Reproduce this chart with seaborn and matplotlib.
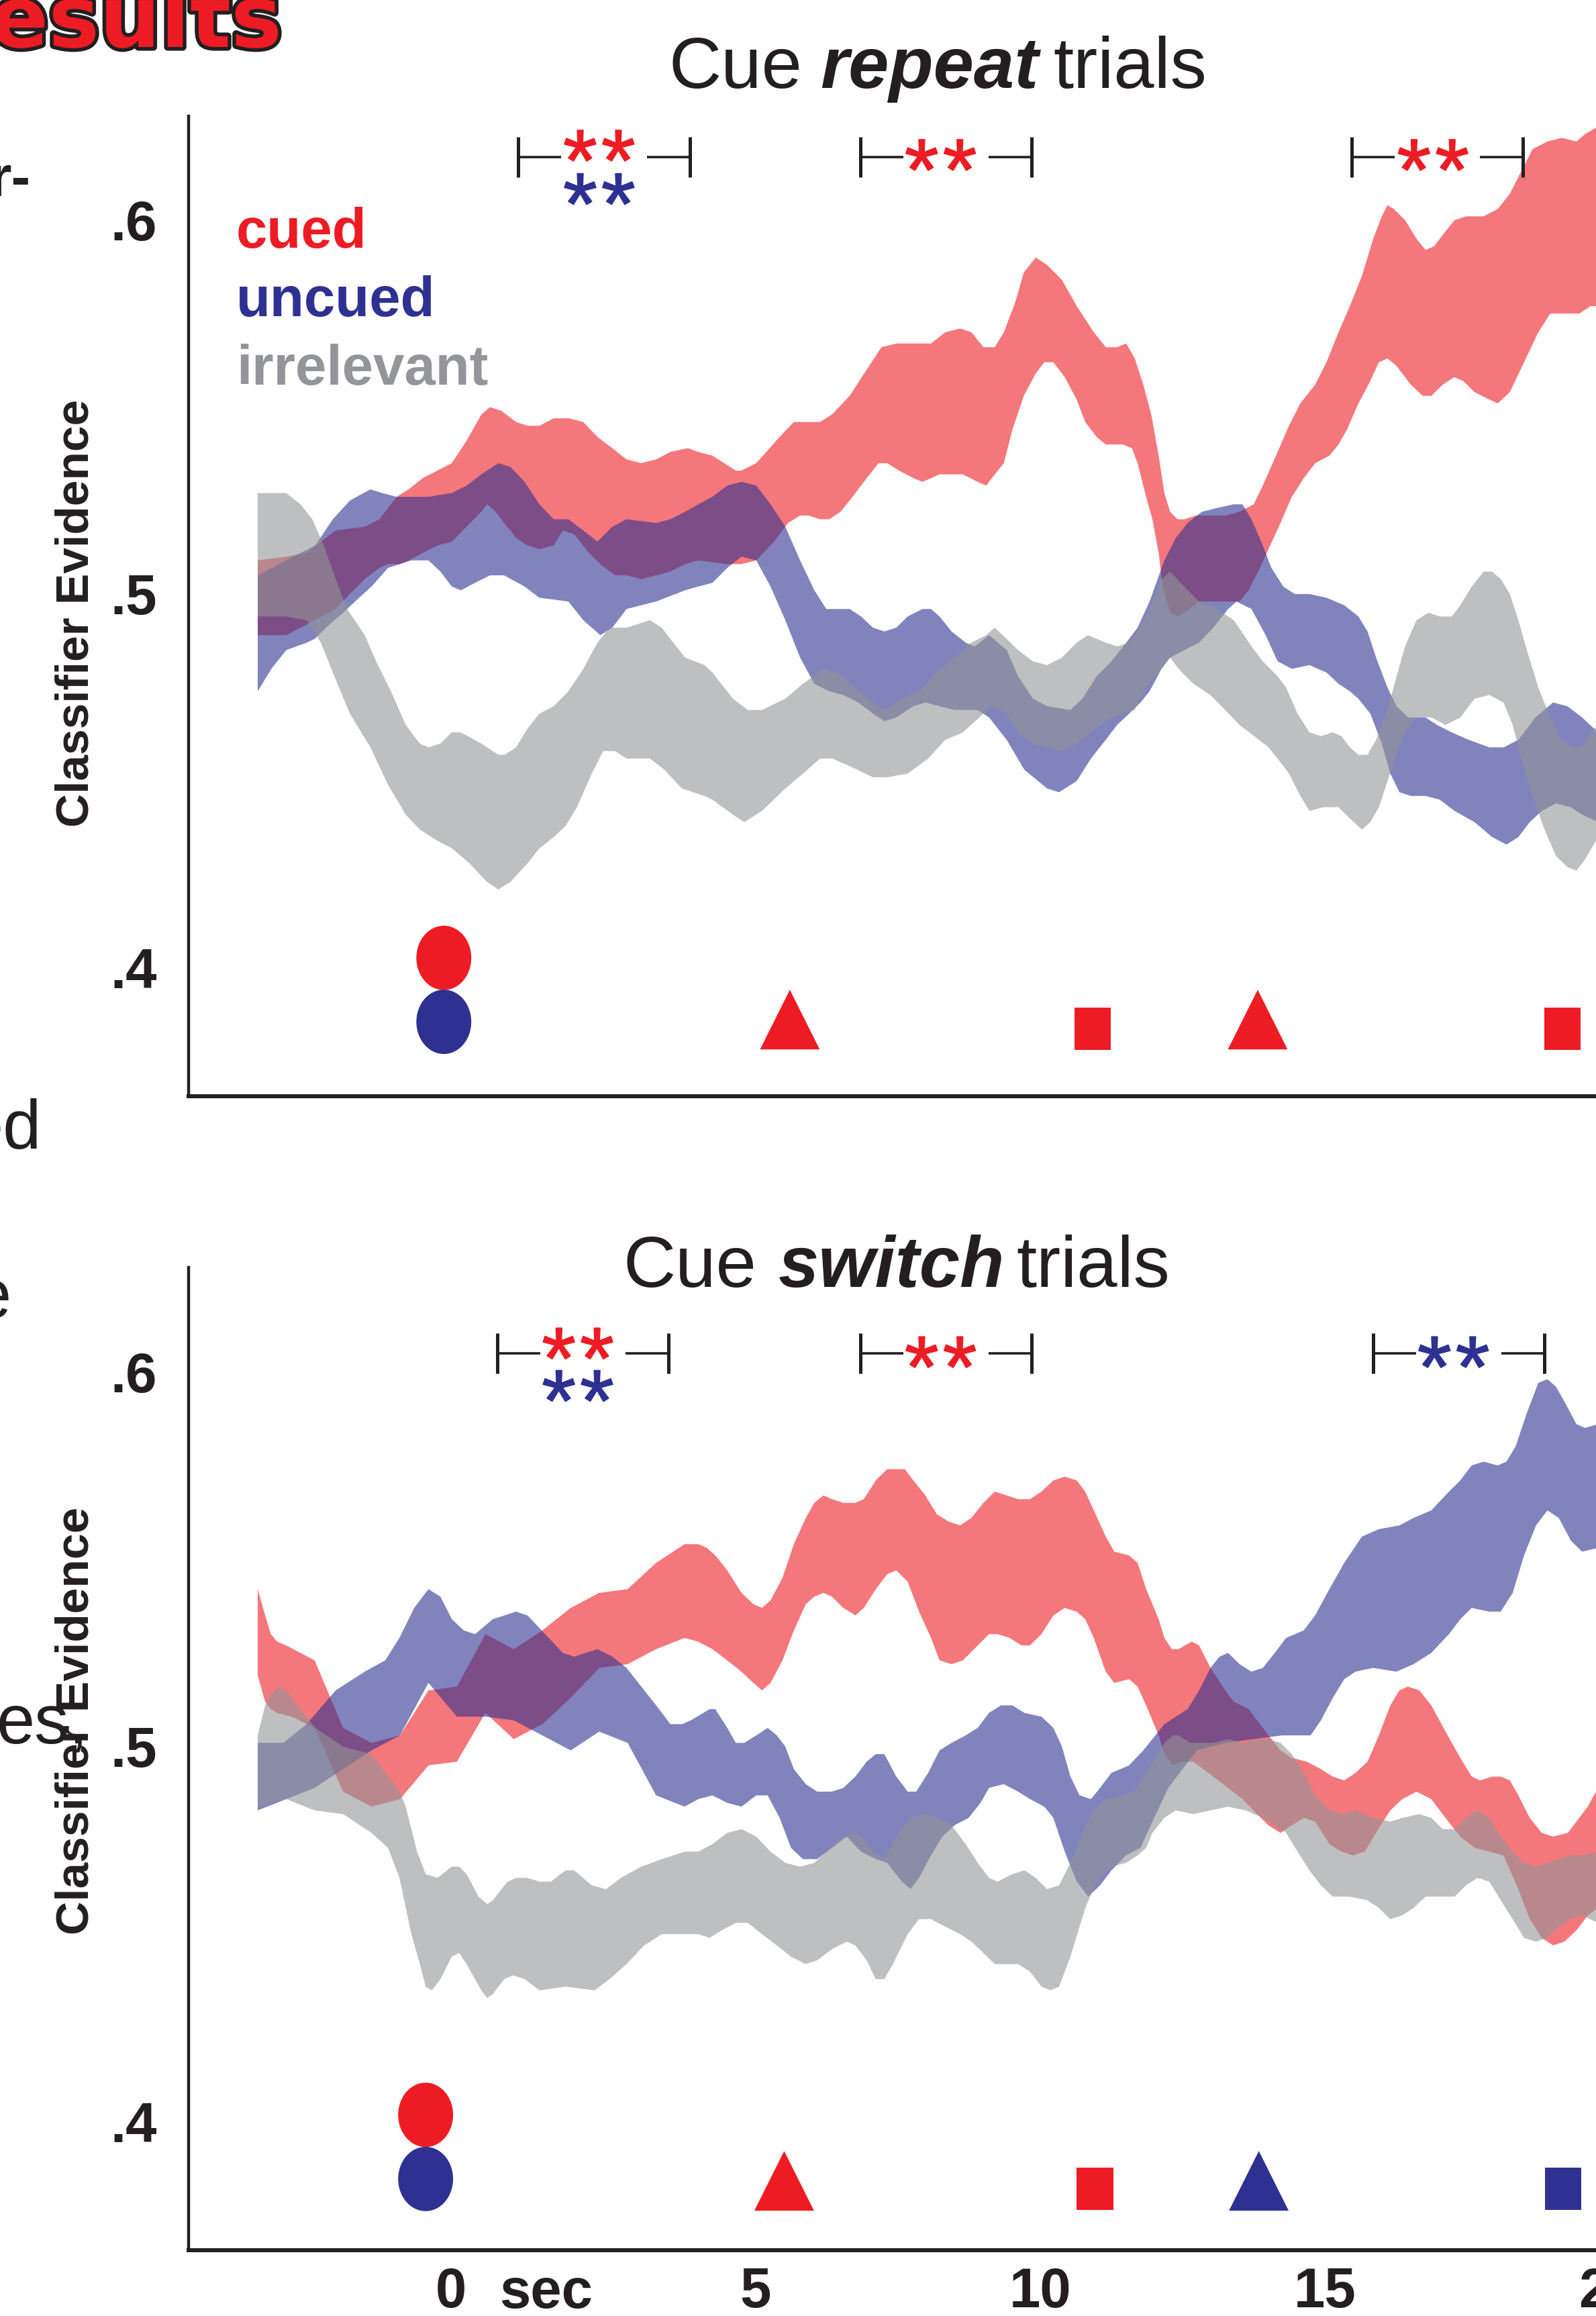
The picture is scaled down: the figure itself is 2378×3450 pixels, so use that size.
import numpy as np
import pandas as pd
import matplotlib
matplotlib.use("Agg")
import matplotlib.pyplot as plt
import seaborn as sns
from matplotlib import font_manager
from matplotlib.font_manager import FontProperties
from matplotlib.path import Path
from matplotlib.textpath import TextPath
from matplotlib.transforms import ScaledTranslation
import matplotlib.patheffects as pe

# ---------------------------------------------------------------- data
# Each band edge is a list of (time [s], classifier evidence) points.
# ---- Cue repeat trials
rep_cued_hi = [(-3.75, .509), (-3.25, .510), (-2.89, .511), (-2.64, .514), (-2.38, .517), (-1.87, .518),
               (-1.61, .520), (-1.31, .526), (-1.10, .528), (-0.85, .531), (-0.34, .535), (-0.08, .541),
               (0.18, .548), (0.33, .550), (0.53, .549), (0.79, .546), (0.99, .545), (1.20, .545),
               (1.45, .547), (1.71, .547), (1.97, .546), (2.22, .542), (2.48, .539), (2.73, .536),
               (2.99, .535), (3.25, .536), (3.50, .538), (3.81, .539), (3.99, .538), (4.24, .537),
               (4.65, .533), (4.75, .533), (5.01, .535), (5.42, .542), (5.67, .546), (5.83, .546),
               (6.13, .546), (6.34, .548), (6.65, .553), (6.95, .560), (7.21, .566), (7.47, .567),
               (7.82, .567), (8.08, .567), (8.33, .570), (8.59, .571), (8.79, .570), (9.00, .566),
               (9.20, .566), (9.36, .570), (9.56, .578), (9.71, .586), (9.92, .590), (10.12, .588),
               (10.38, .584), (10.64, .577), (10.94, .570), (11.15, .566), (11.35, .566), (11.51, .567),
               (11.66, .563), (11.81, .556), (11.95, .548), (12.08, .537), (12.18, .527), (12.28, .522),
               (12.41, .520), (12.53, .520), (12.74, .521), (12.99, .521), (13.25, .521), (13.50, .522),
               (13.75, .524), (13.91, .529), (14.17, .538), (14.37, .545), (14.57, .551), (14.83, .556),
               (15.03, .562), (15.24, .570), (15.44, .577), (15.65, .585), (15.85, .595), (16.00, .601),
               (16.10, .604), (16.21, .603), (16.41, .600), (16.61, .595), (16.77, .592), (16.92, .593),
               (17.12, .597), (17.28, .600), (17.48, .601), (17.79, .601), (18.04, .603), (18.25, .607),
               (18.45, .613), (18.65, .619), (18.91, .621), (19.16, .622), (19.42, .621), (19.57, .623),
               (19.80, .625)]
rep_cued_lo = [(-3.75, .489), (-3.25, .489), (-2.75, .493), (-2.38, .496), (-2.13, .500), (-1.87, .504),
               (-1.61, .507), (-1.46, .508), (-1.26, .508), (-1.10, .509), (-0.85, .511), (-0.59, .513),
               (-0.34, .514), (-0.08, .518), (0.18, .522), (0.28, .524), (0.43, .522), (0.58, .519),
               (0.79, .515), (0.99, .513), (1.20, .512), (1.45, .513), (1.61, .517), (1.81, .516),
               (2.07, .511), (2.27, .508), (2.53, .505), (2.73, .505), (2.99, .504), (3.25, .505),
               (3.50, .506), (3.76, .508), (3.99, .509), (4.50, .508), (4.75, .508), (5.01, .509),
               (5.32, .514), (5.57, .519), (5.78, .521), (5.93, .521), (6.13, .520), (6.29, .520),
               (6.49, .522), (6.70, .526), (6.95, .531), (7.16, .535), (7.31, .535), (7.52, .533),
               (7.77, .531), (7.93, .530), (8.23, .532), (8.44, .532), (8.64, .532), (8.90, .530),
               (9.05, .529), (9.20, .532), (9.36, .535), (9.51, .544), (9.71, .553), (9.92, .559),
               (10.07, .562), (10.23, .562), (10.43, .558), (10.64, .552), (10.79, .546), (10.99, .542),
               (11.15, .540), (11.45, .540), (11.61, .539), (11.71, .535), (11.86, .526), (11.97, .520),
               (12.08, .511), (12.15, .502), (12.28, .495), (12.41, .494), (12.53, .495), (12.79, .498),
               (13.04, .498), (13.30, .498), (13.50, .498), (13.66, .501), (13.86, .507), (14.01, .512),
               (14.22, .519), (14.42, .526), (14.63, .531), (14.83, .535), (15.08, .537), (15.24, .540),
               (15.39, .544), (15.59, .551), (15.80, .557), (15.95, .562), (16.10, .563), (16.26, .561),
               (16.51, .556), (16.72, .553), (16.87, .553), (17.07, .556), (17.27, .558), (17.43, .557),
               (17.63, .554), (17.89, .552), (18.04, .551), (18.25, .554), (18.50, .562), (18.75, .570),
               (18.96, .575), (19.21, .575), (19.47, .575), (19.67, .577), (19.80, .577)]
rep_uncued_hi = [(-3.75, .505), (-3.25, .509), (-2.74, .513), (-2.43, .520), (-2.13, .525), (-1.77, .528),
                 (-1.56, .527), (-1.31, .526), (-1.10, .526), (-0.75, .526), (-0.34, .527), (-0.08, .529),
                 (0.18, .532), (0.48, .535), (0.69, .534), (0.94, .530), (1.20, .524), (1.45, .520),
                 (1.71, .520), (1.97, .517), (2.22, .514), (2.48, .518), (2.73, .520), (3.25, .519),
                 (3.50, .520), (3.76, .522), (3.99, .524), (4.24, .526), (4.50, .529), (4.75, .530),
                 (5.01, .529), (5.26, .524), (5.52, .518), (5.78, .509), (6.03, .501), (6.24, .496),
                 (6.44, .496), (6.65, .496), (6.85, .494), (7.06, .491), (7.26, .490), (7.47, .491),
                 (7.67, .494), (7.93, .496), (8.08, .496), (8.23, .494), (8.44, .490), (8.69, .487),
                 (8.85, .486), (9.10, .489), (9.41, .485), (9.61, .478), (9.87, .472), (10.12, .470),
                 (10.53, .469), (10.74, .472), (10.99, .478), (11.25, .482), (11.51, .487), (11.71, .491),
                 (11.92, .498), (12.18, .509), (12.38, .515), (12.59, .519), (12.84, .522), (13.10, .523),
                 (13.40, .524), (13.55, .524), (13.71, .520), (13.91, .513), (14.06, .507), (14.27, .502),
                 (14.47, .500), (14.73, .500), (15.03, .499), (15.34, .497), (15.59, .494), (15.75, .490),
                 (15.90, .483), (16.10, .475), (16.26, .470), (16.46, .467), (16.77, .467), (16.97, .465),
                 (17.23, .463), (17.53, .461), (17.89, .459), (18.14, .459), (18.40, .461), (18.70, .467),
                 (19.01, .471), (19.26, .470), (19.52, .467), (19.80, .463)]
rep_uncued_lo = [(-3.75, .474), (-3.51, .480), (-3.25, .485), (-2.89, .487), (-2.75, .488), (-2.48, .492),
                 (-2.25, .495), (-1.97, .499), (-1.75, .502), (-1.46, .507), (-1.25, .508), (-1.05, .509),
                 (-0.75, .509), (-0.54, .506), (-0.34, .502), (-0.18, .501), (0.07, .503), (0.33, .505),
                 (0.58, .505), (0.94, .502), (1.20, .499), (1.71, .498), (1.97, .493), (2.27, .489),
                 (2.48, .491), (2.73, .496), (3.25, .498), (3.76, .501), (3.99, .502), (4.24, .503),
                 (4.50, .507), (4.75, .510), (5.01, .509), (5.26, .502), (5.52, .493), (5.78, .483),
                 (6.03, .476), (6.29, .474), (6.54, .473), (6.80, .471), (7.06, .468), (7.26, .466),
                 (7.47, .467), (7.77, .470), (7.98, .471), (8.23, .470), (8.49, .469), (8.90, .469),
                 (9.10, .467), (9.41, .461), (9.72, .453), (10.12, .448), (10.33, .447), (10.64, .450),
                 (10.89, .456), (11.15, .461), (11.35, .465), (11.56, .468), (11.76, .471), (11.92, .474),
                 (12.13, .480), (12.28, .483), (12.53, .485), (12.79, .487), (13.04, .491), (13.30, .496),
                 (13.45, .498), (13.71, .496), (13.96, .489), (14.17, .482), (14.42, .480), (14.73, .481),
                 (15.03, .479), (15.24, .476), (15.44, .474), (15.59, .472), (15.80, .468), (16.00, .460),
                 (16.15, .452), (16.31, .447), (16.51, .446), (16.77, .446), (17.02, .445), (17.28, .442),
                 (17.63, .439), (17.94, .435), (18.19, .433), (18.40, .435), (18.60, .439), (18.81, .442),
                 (19.06, .444), (19.32, .443), (19.52, .441), (19.80, .439)]
rep_irrel_hi = [(-3.75, .527), (-3.25, .527), (-3.00, .524), (-2.79, .520), (-2.59, .513), (-2.38, .504),
                (-2.18, .496), (-1.87, .489), (-1.67, .482), (-1.41, .474), (-1.15, .465), (-0.90, .460),
                (-0.75, .459), (-0.54, .460), (-0.34, .463), (-0.18, .463), (0.18, .460), (0.48, .457),
                (0.59, .457), (0.79, .459), (0.99, .464), (1.20, .468), (1.45, .470), (1.71, .474),
                (1.97, .480), (2.22, .487), (2.43, .491), (2.73, .491), (3.14, .493), (3.35, .491),
                (3.55, .487), (3.76, .483), (4.10, .481), (4.24, .479), (4.60, .472), (4.86, .469),
                (5.11, .469), (5.52, .472), (5.83, .476), (6.19, .480), (6.44, .479), (6.75, .475),
                (7.06, .471), (7.26, .469), (7.57, .472), (7.88, .474), (8.18, .479), (8.49, .483),
                (8.79, .487), (9.05, .489), (9.20, .491), (9.41, .488), (9.61, .485), (9.87, .482),
                (10.12, .481), (10.38, .483), (10.64, .487), (10.84, .489), (11.15, .487), (11.35, .486),
                (11.56, .487), (11.76, .491), (11.97, .498), (12.13, .504), (12.28, .506), (12.53, .502),
                (12.79, .498), (13.10, .496), (13.40, .493), (13.71, .486), (13.91, .482), (14.17, .478),
                (14.32, .475), (14.52, .468), (14.73, .463), (14.93, .462), (15.14, .463), (15.29, .462),
                (15.44, .459), (15.59, .457), (15.75, .457), (15.90, .461), (16.10, .469), (16.26, .478),
                (16.41, .486), (16.61, .493), (16.82, .495), (17.02, .494), (17.23, .494), (17.38, .497),
                (17.58, .502), (17.79, .506), (17.94, .506), (18.09, .504), (18.25, .500), (18.40, .493),
                (18.55, .485), (18.75, .475), (18.96, .467), (19.16, .461), (19.37, .459), (19.52, .459),
                (19.67, .463), (19.80, .465)]
rep_irrel_lo = [(-3.75, .494), (-3.25, .494), (-2.89, .493), (-2.64, .487), (-2.43, .479), (-2.13, .468),
                (-1.77, .459), (-1.46, .449), (-1.15, .441), (-0.90, .437), (-0.59, .434), (-0.34, .432),
                (-0.03, .428), (0.28, .423), (0.48, .421), (0.69, .423), (0.99, .428), (1.20, .432),
                (1.45, .435), (1.66, .438), (1.86, .443), (2.12, .452), (2.32, .458), (2.53, .458),
                (2.73, .456), (3.14, .456), (3.40, .453), (3.70, .448), (4.10, .446), (4.24, .445),
                (4.60, .441), (4.80, .439), (5.11, .442), (5.52, .448), (5.83, .452), (6.13, .456),
                (6.34, .456), (6.65, .454), (7.06, .451), (7.31, .451), (7.67, .452), (8.03, .456),
                (8.33, .461), (8.64, .463), (9.00, .468), (9.15, .470), (9.41, .468), (9.61, .463),
                (9.87, .460), (10.12, .459), (10.38, .458), (10.64, .460), (10.89, .463), (11.25, .467),
                (11.45, .468), (11.66, .469), (11.86, .475), (12.18, .481), (12.28, .483), (12.43, .480),
                (12.69, .476), (12.99, .473), (13.25, .469), (13.50, .465), (13.76, .462), (14.01, .459),
                (14.17, .456), (14.37, .452), (14.57, .446), (14.73, .442), (14.98, .443), (15.24, .443),
                (15.44, .440), (15.65, .437), (15.80, .439), (15.95, .443), (16.10, .450), (16.26, .457),
                (16.41, .463), (16.61, .467), (16.87, .467), (17.12, .465), (17.38, .467), (17.63, .472),
                (17.89, .473), (18.14, .471), (18.30, .465), (18.45, .456), (18.65, .446), (18.86, .437),
                (19.06, .430), (19.26, .427), (19.42, .426), (19.57, .429), (19.80, .435)]

# ---- Cue switch trials
sw_cued_hi = [(-3.75, .542), (-3.62, .535), (-3.52, .530), (-3.41, .528), (-3.25, .527), (-2.75, .523),
              (-2.25, .505), (-1.75, .501), (-1.25, .503), (-0.75, .515), (-0.25, .516), (0.25, .530),
              (0.75, .526), (1.25, .531), (1.75, .537), (2.25, .541), (2.75, .542), (3.25, .549),
              (3.75, .554), (3.99, .554), (4.14, .553), (4.29, .551), (4.50, .547), (4.75, .541),
              (4.96, .538), (5.11, .537), (5.26, .539), (5.47, .545), (5.67, .554), (5.88, .561),
              (6.03, .565), (6.19, .567), (6.34, .566), (6.54, .565), (6.75, .565), (6.90, .566),
              (7.11, .571), (7.31, .574), (7.47, .574), (7.62, .574), (7.77, .571), (7.98, .567),
              (8.18, .562), (8.39, .560), (8.59, .559), (8.79, .561), (9.00, .565), (9.20, .568),
              (9.41, .567), (9.61, .566), (9.82, .566), (10.02, .568), (10.23, .571), (10.43, .572),
              (10.64, .571), (10.79, .568), (10.94, .563), (11.15, .556), (11.30, .552), (11.56, .551),
              (11.71, .549), (11.86, .542), (12.08, .534), (12.18, .529), (12.31, .526), (12.43, .526),
              (12.66, .528), (12.79, .527), (12.99, .521), (13.25, .515), (13.40, .512), (13.66, .510),
              (13.81, .507), (14.01, .503), (14.22, .499), (14.42, .497), (14.68, .496), (14.93, .494),
              (15.14, .492), (15.34, .491), (15.54, .493), (15.75, .496), (15.95, .503), (16.15, .511),
              (16.31, .515), (16.46, .516), (16.66, .515), (16.87, .511), (17.12, .504), (17.38, .497),
              (17.58, .492), (17.73, .491), (17.94, .492), (18.09, .492), (18.25, .491), (18.40, .487),
              (18.60, .481), (18.81, .477), (19.01, .476), (19.27, .477), (19.47, .481), (19.62, .484),
              (19.80, .489)]
sw_cued_lo = [(-3.75, .519), (-3.62, .512), (-3.52, .510), (-3.41, .509), (-3.15, .508), (-2.75, .505),
              (-2.25, .488), (-1.75, .484), (-1.25, .486), (-0.75, .495), (-0.25, .496), (0.25, .509),
              (0.75, .502), (1.25, .506), (1.75, .513), (2.25, .521), (2.75, .522), (3.25, .526),
              (3.75, .529), (3.99, .528), (4.24, .526), (4.50, .523), (4.75, .520), (4.96, .517),
              (5.11, .515), (5.26, .517), (5.47, .523), (5.67, .531), (5.88, .538), (6.03, .540),
              (6.19, .541), (6.34, .540), (6.54, .537), (6.75, .535), (6.90, .537), (7.11, .542),
              (7.31, .546), (7.47, .547), (7.67, .544), (7.87, .536), (8.08, .529), (8.23, .523),
              (8.44, .522), (8.64, .523), (8.90, .527), (9.10, .530), (9.25, .530), (9.46, .529),
              (9.67, .527), (9.82, .527), (10.02, .530), (10.23, .535), (10.43, .537), (10.64, .536),
              (10.79, .534), (10.94, .529), (11.15, .520), (11.30, .517), (11.56, .518), (11.71, .516),
              (11.86, .511), (12.08, .503), (12.18, .498), (12.33, .495), (12.48, .496), (12.69, .496),
              (13.04, .492), (13.30, .489), (13.55, .486), (13.81, .482), (14.01, .479), (14.22, .477),
              (14.42, .479), (14.63, .481), (14.83, .480), (15.08, .474), (15.29, .472), (15.49, .471),
              (15.70, .472), (15.90, .477), (16.15, .483), (16.36, .486), (16.61, .488), (16.87, .486),
              (17.12, .481), (17.38, .476), (17.63, .473), (17.89, .472), (18.14, .471), (18.40, .462),
              (18.60, .454), (18.81, .449), (19.01, .447), (19.21, .448), (19.42, .451), (19.62, .455),
              (19.80, .457)]
sw_uncued_hi = [(-3.75, .501), (-3.30, .501), (-2.89, .506), (-2.38, .515), (-1.87, .520), (-1.51, .523),
                (-1.26, .529), (-1.00, .537), (-0.75, .542), (-0.54, .540), (-0.34, .534), (-0.13, .531),
                (0.07, .530), (0.38, .534), (0.79, .536), (0.99, .535), (1.30, .530), (1.61, .525),
                (1.81, .524), (2.22, .526), (2.48, .524), (2.73, .521), (2.99, .516), (3.25, .511),
                (3.50, .506), (3.71, .506), (3.86, .507), (4.19, .510), (4.29, .510), (4.50, .505),
                (4.65, .501), (4.80, .501), (5.01, .503), (5.21, .505), (5.37, .503), (5.52, .500),
                (5.67, .494), (5.88, .490), (6.08, .488), (6.34, .488), (6.54, .489), (6.75, .492),
                (6.95, .496), (7.11, .498), (7.26, .498), (7.47, .492), (7.67, .488), (7.82, .488),
                (8.03, .493), (8.23, .499), (8.44, .501), (8.69, .503), (8.90, .505), (9.10, .509),
                (9.31, .511), (9.51, .511), (9.72, .509), (10.02, .508), (10.23, .505), (10.38, .500),
                (10.53, .492), (10.69, .487), (10.89, .486), (11.05, .489), (11.25, .493), (11.56, .495),
                (11.81, .499), (11.97, .502), (12.18, .506), (12.38, .508), (12.59, .510), (12.79, .515),
                (12.99, .521), (13.15, .524), (13.30, .525), (13.50, .522), (13.71, .520), (13.91, .521),
                (14.12, .525), (14.32, .529), (14.63, .531), (14.83, .535), (15.08, .542), (15.34, .549),
                (15.65, .556), (15.95, .558), (16.31, .559), (16.56, .561), (16.87, .563), (17.18, .568),
                (17.38, .571), (17.58, .575), (17.79, .576), (18.04, .575), (18.19, .576), (18.35, .580),
                (18.55, .589), (18.75, .597), (18.91, .598), (19.06, .596), (19.21, .592), (19.42, .586),
                (19.57, .585), (19.80, .586)]
sw_uncued_lo = [(-3.75, .483), (-3.25, .486), (-2.75, .489), (-2.25, .494), (-1.75, .499), (-1.25, .503),
                (-0.75, .517), (-0.25, .508), (0.25, .508), (0.75, .507), (1.25, .503), (1.75, .499),
                (2.25, .504), (2.75, .501), (3.25, .487), (3.75, .484), (3.99, .486), (4.24, .487),
                (4.50, .485), (4.75, .484), (5.01, .487), (5.21, .487), (5.42, .481), (5.62, .473),
                (5.83, .470), (6.08, .470), (6.34, .473), (6.60, .476), (6.85, .472), (7.11, .470),
                (7.31, .469), (7.57, .464), (7.72, .462), (7.87, .465), (8.08, .471), (8.28, .476),
                (8.49, .479), (8.74, .481), (8.95, .485), (9.10, .489), (9.36, .490), (9.61, .488),
                (9.82, .486), (10.07, .484), (10.23, .481), (10.43, .472), (10.64, .464), (10.84, .460),
                (11.05, .463), (11.25, .467), (11.51, .471), (11.76, .473), (12.00, .481), (12.25, .489),
                (12.75, .499), (13.25, .501), (13.75, .502), (14.25, .503), (14.75, .503), (14.93, .507),
                (15.14, .513), (15.34, .518), (15.54, .520), (15.85, .521), (16.26, .520), (16.56, .522),
                (16.87, .525), (17.18, .530), (17.38, .534), (17.58, .537), (17.89, .536), (18.09, .536),
                (18.30, .541), (18.50, .551), (18.71, .559), (18.91, .563), (19.11, .561), (19.32, .555),
                (19.52, .552), (19.80, .553)]
sw_irrel_hi = [(-3.75, .503), (-3.62, .511), (-3.52, .514), (-3.38, .516), (-3.25, .515), (-3.00, .510),
               (-2.74, .505), (-2.25, .500), (-1.75, .498), (-1.25, .488), (-1.15, .484), (-0.95, .472),
               (-0.80, .466), (-0.59, .465), (-0.34, .468), (-0.21, .468), (-0.08, .466), (0.13, .460),
               (0.28, .458), (0.38, .459), (0.64, .464), (0.79, .465), (0.99, .465), (1.20, .464),
               (1.40, .464), (1.66, .467), (1.81, .467), (2.12, .463), (2.37, .462), (2.63, .465),
               (2.99, .468), (3.35, .470), (3.76, .472), (3.99, .472), (4.24, .474), (4.50, .477),
               (4.75, .478), (5.01, .476), (5.26, .472), (5.52, .469), (5.78, .468), (6.03, .469),
               (6.24, .472), (6.44, .475), (6.70, .477), (6.85, .476), (7.06, .472), (7.26, .470),
               (7.47, .476), (7.72, .481), (7.98, .482), (8.23, .481), (8.44, .479), (8.69, .474),
               (8.90, .469), (9.10, .465), (9.25, .464), (9.51, .466), (9.72, .467), (9.92, .465),
               (10.12, .462), (10.33, .463), (10.53, .469), (10.74, .477), (10.94, .483), (11.15, .486),
               (11.45, .487), (11.66, .488), (11.86, .493), (12.08, .498), (12.18, .501), (12.33, .503),
               (12.43, .503), (12.64, .501), (12.79, .501), (13.04, .501), (13.30, .502), (13.55, .501),
               (13.81, .502), (14.01, .502), (14.22, .501), (14.42, .498), (14.63, .493), (14.83, .487),
               (15.08, .483), (15.34, .482), (15.54, .483), (15.85, .481), (16.15, .480), (16.36, .481),
               (16.66, .482), (16.87, .481), (17.07, .478), (17.28, .478), (17.48, .481), (17.68, .483),
               (17.89, .481), (18.09, .476), (18.30, .472), (18.50, .469), (18.71, .468), (18.91, .469),
               (19.11, .470), (19.32, .471), (19.52, .471), (19.80, .472)]
sw_irrel_lo = [(-3.75, .484), (-3.25, .486), (-2.75, .483), (-2.25, .482), (-1.75, .477), (-1.46, .473),
               (-1.26, .465), (-1.05, .450), (-0.90, .442), (-0.80, .436), (-0.69, .435), (-0.54, .438),
               (-0.34, .444), (-0.21, .445), (-0.08, .442), (0.18, .435), (0.28, .433), (0.38, .434),
               (0.58, .438), (0.74, .439), (0.94, .438), (1.20, .435), (1.66, .436), (2.17, .435),
               (2.43, .438), (2.73, .442), (3.04, .447), (3.35, .450), (3.65, .450), (3.99, .450),
               (4.19, .449), (4.40, .451), (4.65, .453), (4.86, .453), (5.11, .450), (5.37, .447),
               (5.62, .444), (5.88, .442), (6.08, .443), (6.34, .446), (6.60, .448), (6.75, .447),
               (6.95, .443), (7.11, .438), (7.26, .438), (7.41, .442), (7.67, .450), (7.87, .454),
               (8.08, .454), (8.33, .452), (8.59, .450), (8.79, .448), (9.00, .445), (9.20, .442),
               (9.46, .442), (9.61, .442), (9.82, .440), (10.02, .436), (10.18, .435), (10.33, .436),
               (10.53, .444), (10.79, .457), (10.99, .464), (11.25, .468), (11.51, .469), (11.71, .471),
               (11.86, .473), (11.97, .477), (12.18, .481), (12.38, .483), (12.69, .482), (12.99, .483),
               (13.30, .484), (13.61, .483), (13.91, .481), (14.12, .479), (14.32, .477), (14.52, .472),
               (14.73, .467), (14.93, .463), (15.14, .460), (15.44, .460), (15.75, .459), (15.95, .457),
               (16.15, .454), (16.36, .455), (16.56, .457), (16.77, .460), (17.07, .460), (17.28, .460),
               (17.48, .463), (17.68, .465), (17.89, .464), (18.09, .459), (18.30, .454), (18.50, .449),
               (18.71, .448), (18.91, .449), (19.11, .452), (19.32, .454), (19.52, .455), (19.80, .453)]

series_names = ["cued", "uncued", "irrelevant"]

# event markers (time, value, shape, condition)
rep_mark_t = [-0.48, -0.48, 5.60, 10.92, 13.82, 19.17]
rep_mark_v = [0.4027, 0.3856, 0.3862, 0.3838, 0.3862, 0.3838]
rep_mark_shape = ["oval", "oval", "triangle", "square", "triangle", "square"]
rep_mark_cond = ["cued", "uncued", "cued", "cued", "cued", "cued"]
sw_mark_t = [-0.80, -0.80, 5.50, 10.96, 13.84, 19.19]
sw_mark_v = [0.4018, 0.3847, 0.3842, 0.3820, 0.3842, 0.3820]
sw_mark_shape = ["oval", "oval", "triangle", "square", "triangle", "square"]
sw_mark_cond = ["cued", "uncued", "cued", "cued", "uncued", "uncued"]

# significance windows
rep_sig_start = [0.83, 6.84, 15.47]
rep_sig_end = [3.84, 9.85, 18.48]
rep_sig_level = 0.6169
rep_ast_t = [2.25, 2.25, 8.25, 16.90]
rep_ast_v = [0.6199, 0.6083, 0.6174, 0.6174]
rep_ast_cond = ["cued", "uncued", "cued", "cued"]
sw_sig_start = [0.46, 6.84, 15.85]
sw_sig_end = [3.47, 9.85, 18.86]
sw_sig_level = 0.6049
sw_ast_t = [1.875, 1.875, 8.25, 17.26]
sw_ast_v = [0.6075, 0.5962, 0.6052, 0.6052]
sw_ast_cond = ["cued", "uncued", "cued", "uncued"]

xtick_values = [0, 5, 10, 15, 20]
xtick_labels = ["0", "5", "10", "15", "20"]
ytick_values = [0.4, 0.5, 0.6]
ytick_labels = [".4", ".5", ".6"]

# ---------------------------------------------------------------- style
COL = {"cued": "#ED1C24", "uncued": "#2E3192", "irrelevant": "#939598"}
INK = "#231F20"

sns.set_theme(style="white")
installed = {f.name for f in font_manager.fontManager.ttflist}
SANS = "Liberation Sans" if "Liberation Sans" in installed else "DejaVu Sans"
NARROW = "Liberation Sans Narrow" if "Liberation Sans Narrow" in installed else None
plt.rcParams["font.family"] = [SANS, "DejaVu Sans"]

W, H, DPI = 2378, 3450, 100
fig = plt.figure(figsize=(W / DPI, H / DPI), dpi=DPI)
fig.patch.set_facecolor("white")

T0_PX, PX_PER_S = 702.0, 84.8
X_LEFT, X_RIGHT = -4.96, 20.5
YLIM = (0.3657, 0.6278)


def make_axes(top_px, bottom_px):
    left_px = T0_PX + X_LEFT * PX_PER_S
    ax = fig.add_axes([left_px / W, 1 - bottom_px / H,
                       (X_RIGHT - X_LEFT) * PX_PER_S / W, (bottom_px - top_px) / H])
    ax.set_facecolor("none")
    return ax


ax_top = make_axes(173, 1633)
ax_bot = make_axes(1888, 3352)

# custom marker shapes
th = np.linspace(0, 2 * np.pi, 80)
oval_marker = Path(np.column_stack([0.427 * np.cos(th), 0.5 * np.sin(th)]), closed=True)
rect_marker = Path([(-0.43, -0.5), (0.43, -0.5), (0.43, 0.5), (-0.43, 0.5), (-0.43, -0.5)], closed=True)
MARKERS = {"oval": (oval_marker, 69.0 ** 2), "triangle": ("^", 64.0 ** 2), "square": (rect_marker, 45.4 ** 2)}

# asterisk font and metrics (so the glyph is centred on its value)
AST_FAMILY = [NARROW, SANS] if NARROW else [SANS]
AST_FP = FontProperties(family=AST_FAMILY[0], weight="normal")
tp = TextPath((0, 0), "*", size=100, prop=AST_FP)
ext = tp.get_extents()
AST_H_PX = 52.0 if NARROW else 46.0
AST_FS = (AST_H_PX / (ext.height / 100.0)) * 72.0 / DPI
AST_CY = (ext.y0 + ext.y1) / 200.0


def draw_band(ax, hi, lo, color):
    th_, vh_ = zip(*hi)
    tl_, vl_ = zip(*lo)
    ax.fill(list(th_) + list(tl_)[::-1], list(vh_) + list(vl_)[::-1],
            color=color, alpha=0.6, linewidth=0, zorder=1)


def draw_panel(ax, bands, mt, mv, mshape, mcond, sig_s, sig_e, sig_lvl, at, av, acond, show_xlabels):
    for name in series_names:
        hi, lo = bands[name]
        draw_band(ax, hi, lo, COL[name])

    mdf = pd.DataFrame({"t": mt, "v": mv, "shape": mshape, "cond": mcond})
    for shp, (mk, size) in MARKERS.items():
        sub = mdf[mdf["shape"] == shp]
        if len(sub):
            sns.scatterplot(data=sub, x="t", y="v", hue="cond", palette=COL, marker=mk, s=size,
                            linewidth=0, edgecolor="none", legend=False, ax=ax, zorder=3,
                            clip_on=False)

    seg = 0.755
    cap = 0.0054
    for s, e in zip(sig_s, sig_e):
        ax.plot([s, s + seg], [sig_lvl, sig_lvl], color=INK, lw=2.6, solid_capstyle="butt", clip_on=False)
        ax.plot([e - seg, e], [sig_lvl, sig_lvl], color=INK, lw=2.6, solid_capstyle="butt", clip_on=False)
        ax.plot([s, s], [sig_lvl - cap, sig_lvl + cap], color=INK, lw=3.6, solid_capstyle="butt", clip_on=False)
        ax.plot([e, e], [sig_lvl - cap, sig_lvl + cap], color=INK, lw=3.6, solid_capstyle="butt", clip_on=False)
    shift = ScaledTranslation(0, -AST_CY * AST_FS / 72.0, fig.dpi_scale_trans)
    for t, v, c in zip(at, av, acond):
        for dt in (-0.335, 0.335):
            ax.text(t + dt, v, "*", ha="center", va="baseline", fontsize=AST_FS, fontweight="normal",
                    family=AST_FAMILY, color=COL[c], transform=ax.transData + shift, clip_on=False,
                    path_effects=[pe.withStroke(linewidth=1.2, foreground=COL[c])])

    ax.set_xlim(X_LEFT, X_RIGHT)
    ax.set_ylim(*YLIM)
    ax.set_xlabel("")
    ax.set_ylabel("")
    sns.despine(ax=ax)
    ax.spines["left"].set_linewidth(3.2)
    ax.spines["bottom"].set_linewidth(4.3)
    ax.spines["left"].set_color(INK)
    ax.spines["bottom"].set_color(INK)
    ax.set_xticks(xtick_values)
    ax.set_yticks(ytick_values)
    ax.set_yticklabels(ytick_labels, fontweight="bold", color=INK)
    ax.tick_params(axis="y", direction="in", length=12, width=4, pad=34, labelsize=60, colors=INK)
    ax.tick_params(axis="x", direction="in", length=14, width=3, pad=17, labelsize=60, colors=INK)
    if show_xlabels:
        ax.set_xticklabels(xtick_labels, fontweight="bold", color=INK)
        lbl0 = ax.get_xticklabels()[0]
        lbl0.set_transform(lbl0.get_transform() + ScaledTranslation(-30 / DPI, 0, fig.dpi_scale_trans))
    else:
        ax.tick_params(axis="x", labelbottom=False)


rep_bands = {"cued": (rep_cued_hi, rep_cued_lo), "uncued": (rep_uncued_hi, rep_uncued_lo),
             "irrelevant": (rep_irrel_hi, rep_irrel_lo)}
sw_bands = {"cued": (sw_cued_hi, sw_cued_lo), "uncued": (sw_uncued_hi, sw_uncued_lo),
            "irrelevant": (sw_irrel_hi, sw_irrel_lo)}

draw_panel(ax_top, rep_bands, rep_mark_t, rep_mark_v, rep_mark_shape, rep_mark_cond,
           rep_sig_start, rep_sig_end, rep_sig_level, rep_ast_t, rep_ast_v, rep_ast_cond, False)
draw_panel(ax_bot, sw_bands, sw_mark_t, sw_mark_v, sw_mark_shape, sw_mark_cond,
           sw_sig_start, sw_sig_end, sw_sig_level, sw_ast_t, sw_ast_v, sw_ast_cond, True)

# legend (top panel)
for name, v in zip(series_names, [0.5926, 0.5743, 0.5560]):
    ax_top.text(-4.13, v, name, color=COL[name], fontsize=60, fontweight="bold", ha="left", va="baseline")

# "sec" unit after the 0 tick
fig.text(744 / W, 1 - 3438 / H, "sec", fontsize=60, fontweight="bold", color=INK, ha="left", va="baseline")


def px_text(x, y, s, **kw):
    return fig.text(x / W, 1 - y / H, s, **kw)


# titles
for x, s, st, wt in [(997, "Cue", "normal", "normal"), (1222, "repeat", "italic", "bold"),
                     (1569, "trials", "normal", "normal")]:
    px_text(x, 131, s, fontsize=78, fontstyle=st, fontweight=wt, color=INK, ha="left", va="baseline")
for x, s, st, wt in [(928, "Cue", "normal", "normal"), (1160, "switch", "italic", "bold"),
                     (1514, "trials", "normal", "normal")]:
    px_text(x, 1917, s, fontsize=78, fontstyle=st, fontweight=wt, color=INK, ha="left", va="baseline")

# y-axis labels
if NARROW:
    yl_kw = dict(family=[NARROW, SANS], fontsize=61)
    frag_kw = dict(family=[NARROW, SANS], fontsize=80)
else:
    yl_kw = dict(fontsize=50)
    frag_kw = dict(fontsize=74)
for yc in (913, 2563):
    px_text(114, yc, "Classifier Evidence", rotation=90, ha="center", va="center",
            fontweight="bold", color=INK, **yl_kw)

# cropped slide text at the edges
px_text(420, 70, "Results", ha="right", va="baseline", fontsize=92, fontweight="bold",
        family=["DejaVu Sans"], color="#ED1C24",
        path_effects=[pe.withStroke(linewidth=8, foreground=INK)])
px_text(45, 292, "r-", ha="right", va="baseline", fontsize=62, fontweight="bold", color=INK)
px_text(62, 1711, "ed", ha="right", va="baseline", color=INK, **frag_kw)
px_text(17, 1963, "e", ha="right", va="baseline", color=INK, **frag_kw)
px_text(132, 2596, "es,", ha="right", va="baseline", color=INK, **frag_kw)

fig.savefig("out.png", dpi=DPI, facecolor="white")
